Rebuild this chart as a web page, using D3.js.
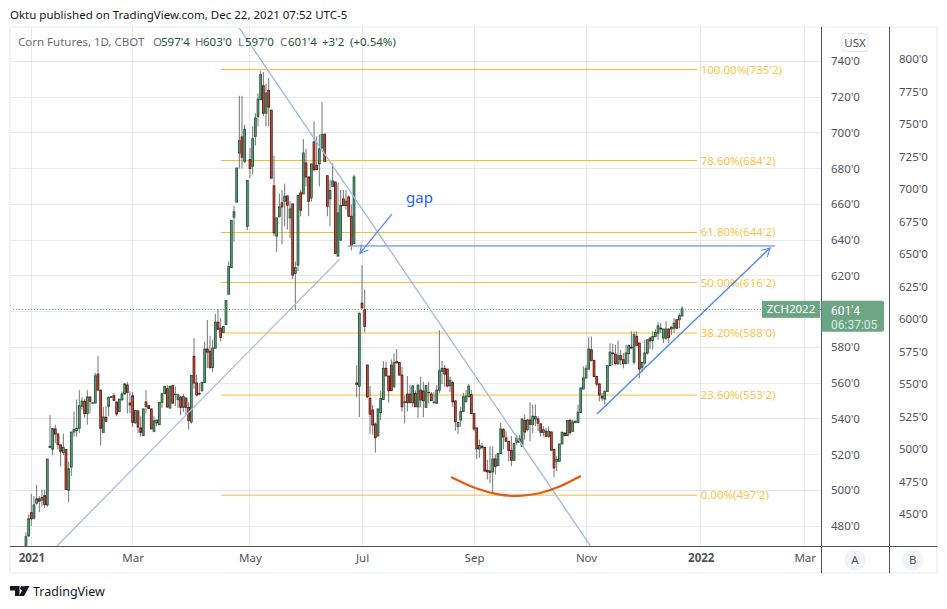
<!DOCTYPE html>
<html>
<head>
<meta charset="utf-8">
<script src="https://cdn.jsdelivr.net/npm/d3@7"></script>
<style>
html, body { margin: 0; padding: 0; background: #fff; }
svg { display: block; }
text { font-family: "Noto Sans", sans-serif; font-size: 11.5px; }
</style>
</head>
<body>
<svg id="chart" width="947" height="609"></svg>
<script>
// first entry of the OHLC arrays is two bars before the 2021 tick
const firstBar = -2

const opens = [
    468,474.5,487.5,484.4,492.8,495.2,494.5,497,491.8,523.9,
    523,534.3,531.5,525.4,521,522.8,500,513,532.6,533.4,
    534.7,547,549.8,542.9,552.2,548.8,548.8,565,556,532.4,
    540.8,547,552,552.9,549.4,544,550.7,553.9,558.9,548.8,
    552.9,537.7,544.4,534.9,530.6,549.4,547.3,545.5,533,537.7,
    536.7,549.2,554,556.8,546,558.5,553.5,550.7,552.1,546.4,
    551.6,546.4,538.2,574.9,560,554.2,555.9,560.3,579,577.7,
    568.7,579.5,594,590.7,588.3,592.7,609.7,624.5,652.8,661.2,
    688.7,697.7,684,647.7,685,681.3,698,709.2,718.5,726.3,
    711,723.7,712.7,670.3,642.2,653.3,660.8,661.7,664.7,652.4,
    660.2,621.3,626,666.4,665.8,683.1,675.3,663.6,694.9,681.8,
    682.6,691.5,699.3,676,663,670,672.5,631,640,663,
    659.3,664.1,653.3,638,560,558.2,604.7,601,570.1,551.4,
    544.9,537,530.4,543.4,550.8,568.2,563.9,570,557.9,571.9,
    571.5,564.4,549,553.8,553.8,549,554.2,546.7,556,555.5,
    546.4,554.5,553.8,549,548.6,556,566.5,568.2,567.8,558.5,
    560.3,550,535.6,539.3,544.1,549.7,552.3,553.5,542.9,534.9,
    523.1,524.6,524,511.2,510.8,510.3,517.5,513.8,520.5,533.9,
    529.3,527.4,522.2,516.8,526.9,528.7,524.6,539,533.9,539.3,
    536.9,539.9,539.9,537.1,532.4,533,530.2,532.6,522.8,516.2,
    516.2,525.9,532,530.6,539.1,533,538,538,
    543.6,556.6,562.8,567.8,578.6,572.7,563.7,559.4,552.6,551,
    555.3,569.7,576.8,576.2,570.8,575.3,573,570.8,576.4,580.1,
    571.7,586,582.3,568.8,571.2,576.8,585.1,583.8,586,587.9,
    590.7,585.1,585.1,590.2,590.2,590.7,595.4,595.4,597.6
]
const highs = [
    476.5,486.5,498,496.7,503,496.7,500.4,500.4,517.5,542,
    534.5,536.7,531.5,525.4,531.7,522.8,516,532.6,544,550.7,
    556,552,551,556,552.2,549,565.6,575,556,546.6,
    547,552.5,552.5,554.4,549.4,551,555.3,560,560.5,555.3,
    555,544.7,544.4,541.4,545.5,556,547.3,545.5,541.4,539.3,
    549.2,554,558.1,558.7,558.7,559,558,554,552.9,554,
    551.6,549.3,564.2,585.1,564.6,560,560.9,583.2,595.3,586.4,
    584.2,598.7,601.3,596.3,591.6,606.1,628,650.9,659,680.3,
    720.7,720.7,704.5,673.3,691.5,703.6,711,722,734.7,734,
    727.4,730.6,712.7,687.2,652.4,666,668,671.6,664.7,661.7,
    660.2,628,664.9,668.2,696.5,691,675.3,682.6,706.4,698,
    699,717.2,699.3,676,673.8,683,672.5,672,668,668,
    668,665,659.9,676.6,570,599.1,626.1,612.2,570.1,558.3,
    547.7,538,546,555.7,572.3,571.9,563.9,573.2,576.5,579,
    571.5,569,552.9,563.9,558.8,558.8,556,559.3,563.5,560.7,
    558.8,560.7,555,554.7,558.8,589.6,572.3,570,567.8,563.5,
    561.3,550,538,546.7,554.6,556,559.4,556,542.9,534.9,
    528.3,526.5,524,517,524.6,524.6,520,520.5,537.7,534.9,
    533,527.4,530.2,526.5,531,531,539.9,542.3,540,549.2,
    547.9,548,541.4,537.5,535.8,534.9,535.8,533,522.8,519,
    525.9,532.9,532.4,539.1,539.9,539.5,539.1,547.9,
    557.2,569.3,570,585.4,586,572.7,563.7,560,554.4,556,
    570,582.3,582,581.4,583.8,578.6,576.8,581.4,581.5,588.9,
    588.9,588.9,582.7,572,584.2,584.2,586,588.9,590,594,
    593.5,590.2,594.5,590.7,592,596.3,595.8,599,603
]
const lows = [
    465,474,480,483.6,492,487.7,491,490,490.7,523.5,
    519.6,526.5,522.8,513.4,519.6,500.4,493.3,508,530,530,
    532,545,540.5,536.7,543,548.8,548.8,556,525,532.4,
    538.6,541.4,552,550.3,541.4,544,549.8,553.5,543,543,
    535.4,537.3,532,530,530.6,543,545.5,534.3,532.4,535.8,
    536.7,546,554,546,545.6,548.4,547,546,541.9,543.8,
    542.3,533.9,537.2,556.9,552.5,553.1,554.9,560.3,568.3,567.8,
    566.1,579.1,589.8,583.2,587.9,592.7,609.7,624.5,639,661.2,
    680,680,683,645.5,674.7,676.6,692.8,703.6,718.5,709.2,
    703.6,703.6,674.6,642.2,633.2,652.4,637.5,647.7,645.9,641,
    618,601.2,622.6,653.3,665.8,670,653.3,661.5,678.5,679.4,
    670,691,684,653.3,647.7,670,632.5,631,639.5,659.3,
    657,653.3,634.2,638,552,541,602,588.3,551.5,531.5,
    531,521,530,539.3,550.5,564,549,555.7,557.5,571,
    564.4,544,537.4,544,549,546.7,546.7,540.6,546.7,540.8,
    546,548.6,550.1,548.6,548.6,554.2,559.4,557.9,557.5,555,
    546.7,533.3,531.5,535.6,544,549,552.3,542.9,533,517.4,
    518.1,522.8,510.7,506,504,498.5,508.8,513.5,520.5,522.8,
    527.4,516.2,513.4,516.6,525.5,526.5,524.6,528.3,533,527.4,
    532,535.8,533,530.2,530.2,530.2,529.3,522.4,507.3,510.6,
    516.2,525.9,530.2,530.6,531,533,537.5,537.5,
    543.2,556.6,562.5,567.5,572,563.4,558.1,549.8,550,547.9,
    555.3,569.7,570,570.2,570.2,570,568.2,570.8,570.8,579,
    570.2,580.5,562.8,566,570.2,575.8,579,578.6,585.5,584.2,
    588,582.3,584.2,582.3,587,588,590.2,590.7,597
]
const closes = [
    474,484,484,491.8,495.2,493.9,496,492,517.5,524.6,
    534.5,531.5,525.5,521.8,524,500.4,512,532.6,534,534.7,
    547.3,549.8,542.9,552.2,549.8,549,564,556,534.7,541,
    538.6,552,552.5,550.3,542.7,551,553.9,559.4,554.8,547.7,
    538,544.7,535.4,532.4,545.5,547,545.8,534.3,538.8,539.3,
    549.2,554,558.1,546.6,558.1,548.8,553.8,553.4,546.4,552.5,
    546.4,539.1,564.2,560,553.3,554,560.3,579,577.3,568.7,
    579.5,594,590.1,585.5,591.6,606.1,625.1,650.9,655.8,680.3,
    695.6,686.3,702,673.3,680,696.7,708.3,718.9,732.5,711,
    722.2,714.4,674.6,644,652.4,658.5,658.5,664.5,659.5,657.4,
    620.4,624.5,664.9,656.7,688.7,675.3,661.7,682.6,679.4,679.4,
    691,699,684,658.9,667.7,673.1,632.5,655.2,659.3,659.3,
    661.7,653.3,637,675.3,559.3,599.1,602,591.7,552.2,542.6,
    536.5,529.4,545.4,551.4,568.2,564,555.7,555.7,571.5,571.3,
    564.4,546.7,549.5,549,549,558.3,546.7,558.8,550.5,550.1,
    558.5,554.8,550.1,549.3,556,566.9,568.2,565,558.3,561.5,
    549.5,538.4,538,544.1,552.3,552.7,558.3,542.9,534.3,523.2,
    525,524,510.7,510.3,510,517.5,513.4,520.5,534.3,529.8,
    527.4,522.2,516.8,526.1,529.3,526.9,539.9,532.6,539.3,536.9,
    541.4,541.2,537.5,532.4,533.9,530.2,533,522.4,512.5,517.2,
    525.9,532.4,530.6,539.1,532.4,538.2,538.6,543.6,
    557.2,562.8,568,579,572.7,563.7,559.4,553.3,551.6,555.2,
    569.7,577.3,576.4,570.8,575.3,573,570.8,576.8,580.9,579.6,
    587,581.2,567.8,571.5,576.8,584.2,583.6,586,588.3,592,
    590.2,590.2,590.2,585.5,591.1,593.5,590.7,597.6,601.5
]

const timeTickBars = [0, 38, 82, 124, 166, 208, 251, 290]
const timeTickLabels = ["2021", "Mar", "May", "Jul", "Sep", "Nov", "2022", "Mar"]
const priceTicksA = [740, 720, 700, 680, 660, 640, 620, 600, 580, 560, 540, 520, 500, 480]
const priceTicksB = [800, 775, 750, 725, 700, 675, 650, 625, 600, 575, 550, 525, 500, 475, 450]

const fibPrices = [735.25, 684.25, 644.25, 616.25, 588, 553.25, 497.25]
const fibLabels = ["100.00%(735'2)", "78.60%(684'2)", "61.80%(644'2)", "50.00%(616'2)", "38.20%(588'0)", "23.60%(553'2)", "0.00%(497'2)"]
const fibBars = [71.1, 249.6, 251]

// hand drawn lines, as [bar, price]
const supportLine = [[9.6, 468.8], [115.7, 629.4]]
const resistanceLine = [[77.9, 758.8], [210.2, 467.7]]
const gapLine = [[118.6, 636.6], [278.9, 636.6]]
const gapArrow = [[135.2, 654.5], [123.2, 632.5]]
const channelArrow = [[212.1, 542.6], [277, 635.5]]
const bottomCurve = [[157.4, 507.4], [166.4, 500.7], [175.7, 497.3], [182.1, 496.5], [190.7, 497.9], [198.2, 501.8], [206.1, 508]]
const gapLabelAt = [140.5, 660.7]

const lastPrice = 601.5

const legendParts = ["O", "597'4", "H", "603'0", "L", "597'0", "C", "601'4", "+3'2", "(+0.54%)"]

const GRID = "#e6e8ee"
const AXIS = "#50535e"
const FRAME = "#f0f3fa"
const UP = "#6ba583"
const DOWN = "#d75442"
const UP_EDGE = "#225437"
const DOWN_EDGE = "#5b1a13"
const WICK = "#737375"
const FIB = "#f2bd38"

const plot = {left: 10, right: 821.5, top: 27, bottom: 546.5}
const paneRight = 889.5
const frameRight = 937
const frameBottom = 573

let svg = d3.select("#chart")

let x = d3.scaleLinear().domain([0, 100]).range([31.3, 298])
let y = d3.scaleLinear().domain([740, 480]).range([61.3, 526])
let yB = d3.scaleLinear().domain([800, 450]).range([59, 514])

let lineOf = d3.line().x(d => x(d[0])).y(d => y(d[1]))

// snap to the pixel grid so 1px lines stay crisp
function crisp(v) {
    return Math.floor(v) + 0.5
}

svg.append("defs").append("clipPath")
    .attr("id", "plotClip")
    .append("rect")
    .attr("x", plot.left)
    .attr("y", plot.top)
    .attr("width", plot.right - plot.left)
    .attr("height", plot.bottom - plot.top)

// grid

let gridGroup = svg.append("g").attr("stroke", GRID).attr("stroke-width", 1)
gridGroup.selectAll("line.h")
    .data(priceTicksA)
    .join("line")
    .classed("h", true)
    .attr("x1", plot.left)
    .attr("x2", plot.right)
    .attr("y1", d => crisp(y(d)))
    .attr("y2", d => crisp(y(d)))
gridGroup.selectAll("line.v")
    .data(timeTickBars)
    .join("line")
    .classed("v", true)
    .attr("x1", d => crisp(x(d)))
    .attr("x2", d => crisp(x(d)))
    .attr("y1", plot.top)
    .attr("y2", plot.bottom)

let plotGroup = svg.append("g").attr("clip-path", "url(#plotClip)")

// last price line

plotGroup.append("line")
    .attr("x1", plot.left)
    .attr("x2", plot.right)
    .attr("y1", crisp(y(lastPrice) + 1))
    .attr("y2", crisp(y(lastPrice) + 1))
    .attr("stroke", UP)
    .attr("stroke-dasharray", "1 2")

// fibonacci retracement

let fibGroup = plotGroup.append("g")
fibGroup.selectAll("line")
    .data(fibPrices)
    .join("line")
    .attr("x1", x(fibBars[0]))
    .attr("x2", x(fibBars[1]))
    .attr("y1", (d, i) => i < 3 ? crisp(y(d)) : y(d))
    .attr("y2", (d, i) => i < 3 ? crisp(y(d)) : y(d))
    .attr("stroke", FIB)
fibGroup.selectAll("text")
    .data(fibPrices)
    .join("text")
    .attr("x", x(fibBars[2]))
    .attr("y", d => y(d))
    .attr("dy", "0.35em")
    .attr("fill", "#f7c548")
    .text((d, i) => fibLabels[i])

// candles

let candles = plotGroup.selectAll("g.candle")
    .data(closes)
    .join("g")
    .classed("candle", true)
candles.append("line")
    .attr("x1", (d, i) => x(i + firstBar))
    .attr("x2", (d, i) => x(i + firstBar))
    .attr("y1", (d, i) => y(highs[i]))
    .attr("y2", (d, i) => y(lows[i]))
    .attr("stroke", WICK)
candles.append("rect")
    .attr("x", (d, i) => x(i + firstBar) - 0.9)
    .attr("width", 1.8)
    .attr("y", (d, i) => y(Math.max(opens[i], closes[i])))
    .attr("height", (d, i) => Math.max(0.6, Math.abs(y(opens[i]) - y(closes[i]))))
    .attr("fill", (d, i) => closes[i] >= opens[i] ? UP : DOWN)
    .attr("stroke", (d, i) => closes[i] >= opens[i] ? UP_EDGE : DOWN_EDGE)
    .attr("stroke-width", 0.9)

// drawings

let defs = svg.select("defs")
defs.append("marker")
    .attr("id", "openHead")
    .attr("markerUnits", "userSpaceOnUse")
    .attr("viewBox", "-10 -6 11 12")
    .attr("markerWidth", 11)
    .attr("markerHeight", 12)
    .attr("orient", "auto")
    .append("path")
    .attr("d", "M-8,-4.5 L0,0 L-8,4.5")
    .attr("fill", "none")
    .attr("stroke", "#4d85f5")

function drawLine(points, color, width, head) {
    let path = plotGroup.append("path")
        .datum(points)
        .attr("d", lineOf)
        .attr("fill", "none")
        .attr("stroke", color)
        .attr("stroke-width", width)
    if (head) {
        path.attr("marker-end", "url(#openHead)")
    }
}

drawLine(supportLine, "#a6bcec", 1.3)
drawLine(resistanceLine, "#9dbbdf", 1.3)
drawLine(gapLine, "#86a8f2", 1.5)
drawLine(gapArrow, "#4d85f5", 1.2, true)
drawLine(channelArrow, "#4d85f5", 1.4, true)

plotGroup.append("path")
    .datum(bottomCurve)
    .attr("d", lineOf.curve(d3.curveBasis))
    .attr("fill", "none")
    .attr("stroke", "#e8590c")
    .attr("stroke-width", 2.2)

plotGroup.append("text")
    .attr("x", x(gapLabelAt[0]))
    .attr("y", y(gapLabelAt[1]))
    .attr("fill", "#2962ff")
    .style("font-size", "15px")
    .text("gap")

// frame and pane separators

svg.append("rect")
    .attr("x", 10)
    .attr("y", 27)
    .attr("width", frameRight - 10)
    .attr("height", frameBottom - 27)
    .attr("fill", "none")
    .attr("stroke", FRAME)
    .attr("stroke-width", 2)

// axes

function styleAxis(group) {
    group.select(".domain").remove()
    group.selectAll("text").attr("fill", AXIS).style("font-size", "11.5px")
}

svg.append("g")
    .attr("transform", `translate(${plot.right},0)`)
    .call(d3.axisRight(y).tickValues(priceTicksA).tickSize(0).tickPadding(9.5).tickFormat(d => d + "'0"))
    .call(styleAxis)
svg.append("g")
    .attr("transform", `translate(${paneRight},0)`)
    .call(d3.axisRight(yB).tickValues(priceTicksB).tickSize(0).tickPadding(9.5).tickFormat(d => d + "'0"))
    .call(styleAxis)
let timeAxis = svg.append("g")
    .attr("transform", `translate(0,${plot.bottom})`)
    .call(d3.axisBottom(x).tickValues(timeTickBars).tickSize(0).tickPadding(7)
        .tickFormat((d, i) => timeTickLabels[i]))
    .call(styleAxis)
timeAxis.selectAll("text")
    .style("font-weight", (d, i) => timeTickLabels[i].length === 4 ? "bold" : "normal")

let axisLines = svg.append("g").attr("stroke", AXIS).attr("stroke-width", 1)
axisLines.append("line").attr("x1", plot.left).attr("x2", frameRight).attr("y1", plot.bottom).attr("y2", plot.bottom)
axisLines.append("line").attr("x1", plot.right).attr("x2", plot.right).attr("y1", plot.top).attr("y2", frameBottom)
axisLines.append("line").attr("x1", paneRight).attr("x2", paneRight).attr("y1", plot.top).attr("y2", frameBottom)

// price labels

svg.append("rect")
    .attr("x", 762).attr("y", y(lastPrice) - 8)
    .attr("width", 58).attr("height", 17)
    .attr("fill", UP)
svg.append("text")
    .attr("x", 791).attr("y", y(lastPrice) + 0.5)
    .attr("dy", "0.35em")
    .attr("text-anchor", "middle")
    .attr("fill", "#fff")
    .text("ZCH2022")
svg.append("path")
    .attr("d", `M${plot.right},${y(lastPrice) - 8} h60.5 a2,2 0 0 1 2,2 v27 a2,2 0 0 1 -2,2 h-60.5 z`)
    .attr("fill", UP)
svg.append("text")
    .attr("x", 831).attr("y", y(lastPrice) + 2)
    .attr("dy", "0.35em")
    .attr("fill", "#fff")
    .style("font-family", "Roboto, sans-serif")
    .style("font-size", "12px")
    .text("601'4")
svg.append("text")
    .attr("x", 831).attr("y", y(lastPrice) + 16.2)
    .attr("dy", "0.35em")
    .attr("fill", "#dcebe3")
    .style("font-family", "Roboto, sans-serif")
    .style("font-size", "12px")
    .text("06:37:05")

// currency badge and pane buttons

svg.append("rect")
    .attr("x", 842).attr("y", 33.5)
    .attr("width", 26).attr("height", 18).attr("rx", 4)
    .attr("fill", "#fff").attr("stroke", "#e0e3eb")
svg.append("text")
    .attr("x", 855).attr("y", 42.5)
    .attr("dy", "0.35em")
    .attr("text-anchor", "middle")
    .attr("fill", AXIS)
    .text("USX")

for (let [label, cx] of [["A", 855], ["B", 912.7]]) {
    svg.append("circle")
        .attr("cx", cx).attr("cy", 560).attr("r", 10.5)
        .attr("fill", FRAME)
    svg.append("text")
        .attr("x", cx).attr("y", 559.5)
        .attr("dy", "0.35em")
        .attr("text-anchor", "middle")
        .attr("fill", AXIS)
        .text(label)
}

// header and legend

svg.append("text")
    .attr("x", 10).attr("y", 14.5)
    .attr("dy", "0.35em")
    .attr("fill", "#131722")
    .text("Oktu published on TradingView.com, Dec 22, 2021 07:52 UTC-5")
svg.append("text")
    .attr("x", 18).attr("y", 42)
    .attr("dy", "0.35em")
    .attr("fill", "#6a6d78")
    .text("Corn Futures, 1D, CBOT")

let legendX = [153, 161, 195, 203, 238, 245, 280, 288, 322, 350]
svg.selectAll("text.legend")
    .data(legendParts)
    .join("text")
    .classed("legend", true)
    .attr("x", (d, i) => legendX[i])
    .attr("y", 42)
    .attr("dy", "0.35em")
    .attr("fill", (d, i) => i < 8 && i % 2 === 0 ? "#6a6d78" : UP_EDGE)
    .text(d => d)

// footer

let logo = svg.append("g").attr("fill", "#131722")
logo.append("path").attr("d", "M10,586 H19.5 V596 H15 V590.5 H10 Z")
logo.append("circle").attr("cx", 22.4).attr("cy", 588.2).attr("r", 2.2)
logo.append("path").attr("d", "M24.5,586 H29.5 L24,596 H19 Z")
svg.append("text")
    .attr("x", 33).attr("y", 591.5)
    .attr("dy", "0.35em")
    .attr("fill", "#131722")
    .style("font-size", "12.5px")
    .text("TradingView")
</script>
</body>
</html>
